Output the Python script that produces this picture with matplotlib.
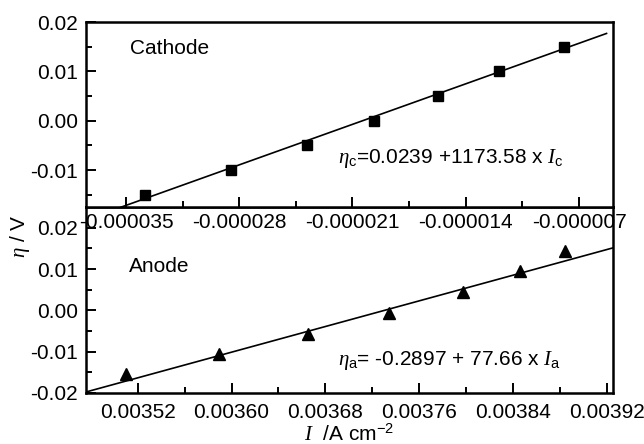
import matplotlib
matplotlib.use('Agg')
import matplotlib.pyplot as plt
from matplotlib.ticker import FixedLocator, StrMethodFormatter

plt.rcParams['font.family'] = ['Liberation Sans', 'DejaVu Sans']
plt.rcParams['mathtext.fontset'] = 'custom'
plt.rcParams['mathtext.rm'] = 'Liberation Sans'
plt.rcParams['mathtext.it'] = 'Liberation Serif:italic'
plt.rcParams['mathtext.bf'] = 'Liberation Sans:bold'
plt.rcParams['axes.unicode_minus'] = False
plt.rcParams['font.size'] = 15

# cathode polarisation
cathode_I = [-3.383e-5, -2.851e-5, -2.382e-5, -1.968e-5, -1.572e-5, -1.195e-5, -7.94e-6]
cathode_eta = [-0.015, -0.010, -0.005, 0.000, 0.005, 0.010, 0.015]
cathode_fit = (0.0239, 1173.58)

# anode polarisation
anode_I = [0.003510, 0.003589, 0.003665, 0.003734, 0.003797, 0.003846, 0.003884]
anode_eta = [-0.0155, -0.0105, -0.0057, -0.0006, 0.0045, 0.0096, 0.0144]
anode_fit = (-0.2897, 77.66)

cathode_xticks = [-0.000035, -0.000028, -0.000021, -0.000014, -0.000007]
cathode_yticks = [-0.01, 0.0, 0.01, 0.02]
anode_xticks = [0.00352, 0.00360, 0.00368, 0.00376, 0.00384, 0.00392]
anode_yticks = [-0.02, -0.01, 0.0, 0.01, 0.02]

fig = plt.figure(figsize=(6.44, 4.44), dpi=100)
L, R = 86 / 644, 613 / 644
top, mid, bot = 1 - 22 / 444, 1 - 207 / 444, 1 - 393 / 444
ax1 = fig.add_axes([L, mid, R - L, top - mid])
ax2 = fig.add_axes([L, bot, R - L, mid - bot])
ax1.set_zorder(3)  # keep the cathode tick labels above the anode panel

# cathode panel
xl1 = (-3.747e-5, -4.9e-6)
ax1.plot(cathode_I, cathode_eta, 's', color='black', ms=7)
x_line = [xl1[0], -5.3e-6]
ax1.plot(x_line, [cathode_fit[0] + cathode_fit[1] * x for x in x_line],
         color='black', lw=1.2)
ax1.set_xlim(*xl1)
ax1.set_ylim(-0.0175, 0.02)
ax1.xaxis.set_major_locator(FixedLocator(cathode_xticks))
ax1.xaxis.set_minor_locator(FixedLocator([-3.15e-5, -2.45e-5, -1.75e-5, -1.05e-5]))
ax1.yaxis.set_major_locator(FixedLocator(cathode_yticks))
ax1.yaxis.set_minor_locator(FixedLocator([-0.015, -0.005, 0.005, 0.015]))
ax1.xaxis.set_major_formatter(StrMethodFormatter('{x:.6f}'))
ax1.yaxis.set_major_formatter(StrMethodFormatter('{x:.2f}'))
ax1.text((130 - 86) / 527, 1 - (48 - 22) / 185, 'Cathode', va='center',
         transform=ax1.transAxes)
ax1.text((338 - 86) / 527, 1 - (158 - 22) / 185,
         r'$\eta_\mathrm{c}$=0.0239 +1173.58 x $I_\mathrm{c}$', va='center',
         transform=ax1.transAxes)

# anode panel
xl2 = (0.003476, 0.003925)
ax2.plot(anode_I, anode_eta, '^', color='black', ms=8)
ax2.plot(xl2, [anode_fit[0] + anode_fit[1] * x for x in xl2], color='black', lw=1.2)
ax2.set_xlim(*xl2)
ax2.set_ylim(-0.02, 0.025)
ax2.xaxis.set_major_locator(FixedLocator(anode_xticks))
ax2.xaxis.set_minor_locator(FixedLocator([0.00356, 0.00364, 0.00372, 0.00380, 0.00388]))
ax2.yaxis.set_major_locator(FixedLocator(anode_yticks))
ax2.yaxis.set_minor_locator(FixedLocator([-0.015, -0.005, 0.005, 0.015]))
ax2.xaxis.set_major_formatter(StrMethodFormatter('{x:.5f}'))
ax2.yaxis.set_major_formatter(StrMethodFormatter('{x:.2f}'))
ax2.set_xlabel(r'$I$  /A cm$^{-2}$', labelpad=1)
ax2.text((129 - 86) / 527, 1 - (267 - 207) / 186, 'Anode', va='center',
         transform=ax2.transAxes)
ax2.text((338 - 86) / 527, 1 - (361 - 207) / 186,
         r'$\eta_\mathrm{a}$= -0.2897 + 77.66 x $I_\mathrm{a}$', va='center',
         transform=ax2.transAxes)

for ax in (ax1, ax2):
    for s in ax.spines.values():
        s.set_linewidth(1.8)
    ax.tick_params(which='both', direction='in', width=1.4, top=False, right=False)
    ax.tick_params(which='major', length=7, pad=6)
    ax.tick_params(which='minor', length=4)
ax1.tick_params(axis='x', which='major', pad=4)
ax2.tick_params(axis='x', which='major', pad=7)

fig.text(20 / 644, 1 - 236 / 444, r'$\eta$ / V', rotation=90, ha='center', va='center')

fig.savefig('out.png', dpi=100)
